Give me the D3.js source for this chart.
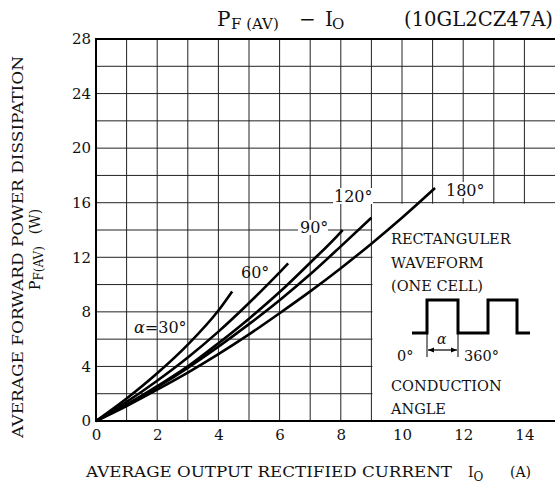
<!DOCTYPE html>
<html>
<head>
<meta charset="utf-8">
<script src="https://cdn.jsdelivr.net/npm/d3@7"></script>
<style>
  body { margin: 0; background: #fff; }
  text { font-family: "DejaVu Serif", "Liberation Serif", serif; fill: #111; }
</style>
</head>
<body>
<div id="chart"></div>
<script>
// conduction angle curves
var angles = ["30°", "60°", "90°", "120°", "180°"];
var io30 = [0, 1, 2, 3, 4, 4.45];
var pf30 = [0, 1.65, 3.5, 5.6, 8.1, 9.5];
var io60 = [0, 1, 2, 3, 4, 5, 6, 6.28];
var pf60 = [0, 1.4, 2.95, 4.65, 6.55, 8.65, 10.9, 11.55];
var io90 = [0, 1, 2, 3, 4, 5, 6, 7, 8, 8.06];
var pf90 = [0, 1.2, 2.55, 4.0, 5.7, 7.5, 9.45, 11.6, 13.85, 14.0];
var io120 = [0, 1, 2, 3, 4, 5, 6, 7, 8, 9];
var pf120 = [0, 1.18, 2.48, 3.9, 5.45, 7.1, 8.85, 10.75, 12.8, 14.9];
var io180 = [0, 1, 2, 3, 4, 5, 6, 7, 8, 9, 10, 11.08];
var pf180 = [0, 1.1, 2.3, 3.55, 4.9, 6.35, 7.9, 9.5, 11.2, 13.0, 14.9, 17.08];

var xTicks = [0, 2, 4, 6, 8, 10, 12, 14];
var yTicks = [0, 4, 8, 12, 16, 20, 24, 28];

var W = 555, H = 488;
var x = d3.scaleLinear().domain([0, 15]).range([96, 555]);
var y = d3.scaleLinear().domain([0, 28]).range([421, 39]);

var svg = d3.select("#chart").append("svg")
  .attr("width", W).attr("height", H);

// grid
var grid = svg.append("g");
d3.range(1, 15).forEach(function(v) {
  grid.append("line")
    .attr("x1", x(v)).attr("x2", x(v))
    .attr("y1", y(0)).attr("y2", y(28))
    .attr("stroke", "#222").attr("stroke-width", 1);
});
d3.range(2, 28, 2).forEach(function(v) {
  grid.append("line")
    .attr("x1", x(0)).attr("x2", x(15))
    .attr("y1", y(v)).attr("y2", y(v))
    .attr("stroke", "#222").attr("stroke-width", 1);
});

// white panel for the waveform note
svg.append("rect")
  .attr("x", x(9) + 1).attr("y", y(16) + 1)
  .attr("width", x(15) - x(9)).attr("height", y(0) - y(16) - 2)
  .attr("fill", "#fff");

// frame: left, bottom, top
svg.append("line").attr("x1", x(0)).attr("x2", x(0)).attr("y1", y(0) + 1).attr("y2", y(28) - 1)
  .attr("stroke", "#000").attr("stroke-width", 2);
svg.append("line").attr("x1", x(0)).attr("x2", x(15)).attr("y1", y(0)).attr("y2", y(0))
  .attr("stroke", "#000").attr("stroke-width", 2);
svg.append("line").attr("x1", x(0)).attr("x2", x(15)).attr("y1", y(28)).attr("y2", y(28))
  .attr("stroke", "#000").attr("stroke-width", 2);

// axes labels via d3 axes
var xAxis = svg.append("g")
  .attr("transform", "translate(0," + (y(0) + 4) + ")")
  .call(d3.axisBottom(x).tickValues(xTicks).tickSize(0).tickPadding(4));
xAxis.select(".domain").remove();
xAxis.selectAll("text").style("font-size", "15px").style("font-family", "DejaVu Serif");

var yAxis = svg.append("g")
  .attr("transform", "translate(" + (x(0) - 2) + ",0)")
  .call(d3.axisLeft(y).tickValues(yTicks).tickSize(0).tickPadding(3));
yAxis.select(".domain").remove();
yAxis.selectAll("text").style("font-size", "15px").style("font-family", "DejaVu Serif");

// curve labels with white backing
function label(tx, ty, w, h) {
  svg.append("rect").attr("x", tx - 2).attr("y", ty - h + 2).attr("width", w + 4).attr("height", h)
    .attr("fill", "#fff");
}
label(300, 233, 26, 15);
label(335, 202, 36, 16);
label(446, 196, 38, 16);

// curves
var line = d3.line()
  .x(function(d) { return x(d[0]); })
  .y(function(d) { return y(d[1]); })
  .curve(d3.curveMonotoneX);
var series = [[io30, pf30], [io60, pf60], [io90, pf90], [io120, pf120], [io180, pf180]];
series.forEach(function(s) {
  svg.append("path")
    .datum(d3.zip(s[0], s[1]))
    .attr("d", line)
    .attr("fill", "none")
    .attr("stroke", "#000")
    .attr("stroke-width", 2.6)
    .attr("stroke-linecap", "butt");
});

var a30 = svg.append("text").attr("x", 134).attr("y", 333).style("font-size", "16px");
a30.append("tspan").style("font-style", "italic").text("α");
a30.append("tspan").text("=" + angles[0]);
svg.append("text").attr("x", 241).attr("y", 278).style("font-size", "16px").text(angles[1]);
svg.append("text").attr("x", 300).attr("y", 233).style("font-size", "16px").text(angles[2]);
svg.append("text").attr("x", 334).attr("y", 202).style("font-size", "16px").text(angles[3]);
svg.append("text").attr("x", 446).attr("y", 196).style("font-size", "16px").text(angles[4]);

// waveform note
var note = [["RECTANGULER", 244], ["WAVEFORM", 268], ["(ONE CELL)", 291], ["CONDUCTION", 391], ["ANGLE", 414]];
note.forEach(function(n) {
  svg.append("text").attr("x", 391).attr("y", n[1]).style("font-size", "14.5px").text(n[0]);
});
var wave = [[412, 333], [427, 333], [427, 300], [458, 300], [458, 333], [488, 333], [488, 300],
            [517, 300], [517, 333], [530, 333]];
svg.append("path").attr("d", d3.line()(wave)).attr("fill", "none")
  .attr("stroke", "#000").attr("stroke-width", 3);
svg.append("line").attr("x1", 427).attr("x2", 427).attr("y1", 333).attr("y2", 357).attr("stroke", "#000").attr("stroke-width", 1);
svg.append("line").attr("x1", 458).attr("x2", 458).attr("y1", 333).attr("y2", 357).attr("stroke", "#000").attr("stroke-width", 1);
svg.append("line").attr("x1", 428).attr("x2", 457).attr("y1", 350).attr("y2", 350).attr("stroke", "#000").attr("stroke-width", 1.2);
svg.append("path").attr("d", "M428,350 L434,347.5 L434,352.5 Z M457,350 L451,347.5 L451,352.5 Z").attr("fill", "#000");
svg.append("text").attr("x", 437).attr("y", 344).style("font-size", "14px").style("font-style", "italic").text("α");
svg.append("text").attr("x", 397).attr("y", 361).style("font-size", "14.5px").text("0°");
svg.append("text").attr("x", 464).attr("y", 361).style("font-size", "14.5px").text("360°");

// title
var title = svg.append("text").attr("y", 26).style("font-size", "20px");
title.append("tspan").attr("x", 217).text("P");
title.append("tspan").attr("x", 231).attr("dy", 3).style("font-size", "15px").text("F (AV)");
title.append("tspan").attr("x", 299).attr("dy", -3).text("−");
title.append("tspan").attr("x", 325).text("I");
title.append("tspan").attr("x", 332).attr("dy", 3).style("font-size", "15px").text("O");
title.append("tspan").attr("x", 404).attr("dy", -3)
  .attr("textLength", 149).attr("lengthAdjust", "spacingAndGlyphs").text("(10GL2CZ47A)");

// x title
var xt = svg.append("text").attr("x", 86).attr("y", 477).style("font-size", "14px");
xt.append("tspan").attr("textLength", 366).attr("lengthAdjust", "spacingAndGlyphs")
  .text("AVERAGE OUTPUT RECTIFIED CURRENT");
xt.append("tspan").attr("x", 468).text("I");
xt.append("tspan").attr("dy", 4).style("font-size", "12px").text("O");
xt.append("tspan").attr("dy", -4).attr("x", 510).text("(A)");

// y title
svg.append("text")
  .attr("transform", "translate(23,247) rotate(-90)")
  .attr("text-anchor", "middle")
  .attr("textLength", 382).attr("lengthAdjust", "spacingAndGlyphs")
  .style("font-size", "14px")
  .text("AVERAGE FORWARD POWER DISSIPATION");
var yt = svg.append("text")
  .attr("transform", "translate(40,290) rotate(-90)")
  .style("font-size", "14px");
yt.append("tspan").text("P");
yt.append("tspan").attr("dy", 3).style("font-size", "12px").text("F(AV)");
yt.append("tspan").attr("dy", -3).attr("dx", 12).text("(W)");
</script>
</body>
</html>
